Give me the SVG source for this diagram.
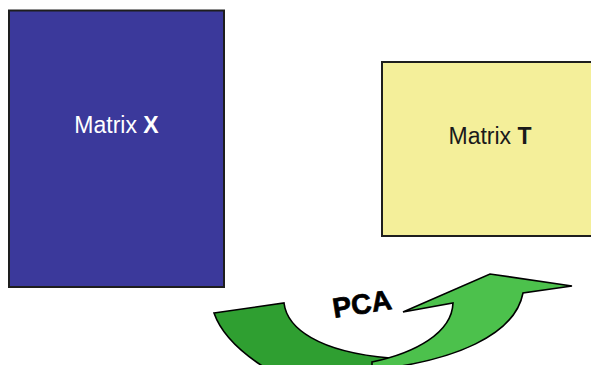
<svg xmlns="http://www.w3.org/2000/svg" width="591" height="365" viewBox="0 0 591 365">
<style>
.box{stroke:#1e1e1e;stroke-width:2}
.lbl{font-family:"Liberation Sans",Arial,sans-serif;font-size:23px;text-anchor:middle}
.arr{stroke:#000;stroke-width:1.6;stroke-linejoin:miter}
</style>
<rect width="591" height="365" fill="#fff"/>
<g id="matrix-x">
<rect class="box" x="9" y="10.5" width="215" height="276.5" fill="#3b399b"/>
<text class="lbl" x="116.5" y="133" fill="#fff">Matrix <tspan font-weight="bold">X</tspan></text>
</g>
<g id="matrix-t">
<rect class="box" x="382" y="62" width="216" height="174" fill="#f4ef9a"/>
<text class="lbl" x="490" y="144" fill="#1a1a1a">Matrix <tspan font-weight="bold">T</tspan></text>
</g>
<g id="connectors">
<path id="pca-arrow-tail" class="arr" fill="#2f9f31" d="M214,313 L284,303 C287,328 318,352 390,358 L395,372 L272,372 C245,356 222,336 214,313 Z"/>
<path id="pca-arrow-head" class="arr" fill="#4cc14c" d="M372,362 C415,353 452,333 453,303 L403,312 L490,274 L572,286 L523,293 C515,335 455,361 372,370 Z"/>
<text x="0" y="0" transform="translate(363.5,313.5) rotate(-9)" font-family="'Liberation Sans',Arial,sans-serif" font-size="28" font-weight="bold" text-anchor="middle" fill="#000" stroke="#000" stroke-width="0.7">PCA</text>
</g>
</svg>
